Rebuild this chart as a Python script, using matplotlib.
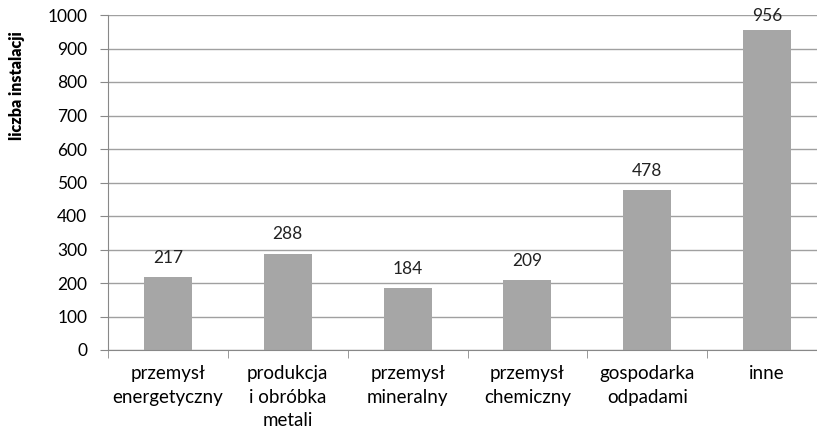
import matplotlib.pyplot as plt
import numpy as np

# dane
kategorie = ['przemysł\nenergetyczny', 'produkcja\ni obróbka\nmetali', 'przemysł\nmineralny',
             'przemysł\nchemiczny', 'gospodarka\nodpadami', 'inne']
liczba = [217, 288, 184, 209, 478, 956]
yticks = list(range(0, 1001, 100))

plt.rcParams['font.family'] = ['Lato', 'DejaVu Sans']

fig = plt.figure(figsize=(8.17, 4.32), dpi=100)
ax = fig.add_axes([108 / 817, 82 / 432, 719 / 817, 335 / 432])

x = np.arange(len(liczba))
ax.bar(x, liczba, width=0.4, color='#A6A6A6', zorder=2)

for xi, v in zip(x, liczba):
    off = 8 if v < 900 else 4
    ax.annotate(str(v), (xi, v), xytext=(0, off), textcoords='offset points',
                ha='center', va='bottom', fontsize=12.5, color='#222222')

ax.set_xlim(-0.5, len(liczba) - 0.5)
ax.set_ylim(0, 1000)
ax.set_yticks(yticks)
ax.yaxis.grid(True, color='#A0A0A0', linewidth=1, zorder=0)

ax.set_xticks(x)
ax.set_xticklabels(kategorie, fontsize=13.5, linespacing=1.45)
ax.set_xticks(np.arange(len(liczba) + 1) - 0.5, minor=True)
ax.tick_params(axis='x', which='major', length=0, pad=11)
ax.tick_params(axis='x', which='minor', length=6, color='#888888')
ax.tick_params(axis='y', length=6, color='#888888', labelsize=12.5, pad=9)

for s in ['top', 'right']:
    ax.spines[s].set_visible(False)
ax.spines['left'].set_color('#888888')
ax.spines['bottom'].set_color('#888888')

ax.set_ylabel('liczba instalacji', fontsize=11.5, fontweight='heavy')
ax.yaxis.set_label_coords(-0.115, 0.79)

fig.savefig('out.png', dpi=100)
